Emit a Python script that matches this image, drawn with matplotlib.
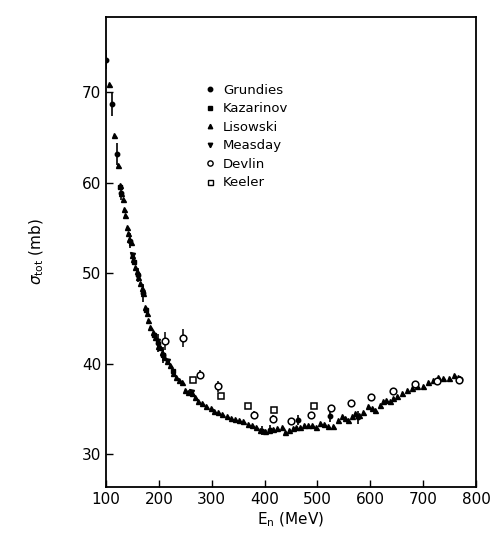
import matplotlib.pyplot as plt
from matplotlib.lines import Line2D

# Lisowski (filled up-triangles)
lis_E = [106, 115, 123, 126, 129, 132, 134, 136, 140, 142, 144, 147, 149, 152, 155,
         158, 161, 164, 168, 170, 174, 177, 180, 183, 189, 193, 198, 202, 206, 210,
         215, 221, 227, 233, 238, 244, 250, 256, 262, 268, 275, 282, 290, 298, 305,
         312, 320, 328, 336, 344, 352, 360, 368, 376, 384, 392, 400, 408, 416, 424,
         433, 439, 446, 453, 460, 467, 474, 482, 490, 497, 505, 512, 520, 530, 539,
         546, 552, 558, 565, 572, 579, 586, 596, 603, 609, 618, 624, 630, 637, 643,
         650, 660, 669, 678, 688, 700, 709, 718, 728, 738, 749, 758, 766]
lis_s = [70.9, 65.3, 62.0, 59.7, 58.9, 58.2, 57.1, 56.4, 55.1, 54.5, 53.8, 53.4, 52.0, 51.6, 50.7,
         50.3, 49.6, 48.9, 48.4, 47.8, 46.3, 45.6, 44.8, 44.1, 43.5, 43.0, 42.0, 41.9, 41.3, 40.8,
         40.3, 39.9, 39.0, 38.5, 38.2, 38.0, 37.1, 36.9, 36.8, 36.3, 35.9, 35.7, 35.4, 35.1, 34.8,
         34.7, 34.5, 34.2, 34.0, 33.9, 33.8, 33.7, 33.4, 33.2, 33.0, 32.7, 32.6, 32.7, 32.8, 32.9,
         33.0, 32.5, 32.7, 32.9, 33.0, 33.0, 33.2, 33.3, 33.2, 33.0, 33.5, 33.4, 33.1, 33.1, 33.8,
         34.2, 34.0, 33.8, 34.2, 34.6, 34.4, 34.7, 35.3, 35.1, 34.9, 35.5, 35.9, 36.0, 35.9, 36.2,
         36.4, 36.8, 37.1, 37.3, 37.5, 37.6, 38.0, 38.2, 38.5, 38.4, 38.4, 38.8, 38.5]

# Grundies (filled circles, error bars)
gru_E = [100, 112, 121, 128, 146, 160, 170, 199, 207, 395, 410, 463, 524, 577, 770]
gru_s = [73.6, 68.7, 63.2, 58.9, 53.6, 49.8, 47.8, 42.3, 41.0, 32.6, 32.7, 33.8, 34.2, 34.1, 38.3]
gru_e = [1.0, 1.3, 1.2, 0.8, 0.8, 0.8, 1.0, 1.0, 0.9, 0.5, 0.5, 0.6, 0.6, 0.7, 0.4]

# Kazarinov (filled squares)
kaz_E = [127, 153, 175, 190, 207, 226]
kaz_s = [59.5, 51.2, 46.0, 43.2, 41.0, 39.2]

# Measday (filled down-triangles)
mea_E = [149, 196, 216, 260]
mea_s = [52.0, 42.5, 40.3, 36.9]

# Devlin (open circles, error bars)
dev_E = [212, 246, 278, 312, 380, 415, 450, 488, 525, 563, 602, 643, 685, 726, 768]
dev_s = [42.5, 42.9, 38.8, 37.5, 34.4, 33.9, 33.7, 34.3, 35.1, 35.7, 36.3, 37.0, 37.8, 38.1, 38.2]
dev_e = [1.0, 1.0, 0.5, 0.6, 0.4, 0.4, 0.3, 0.3, 0.3, 0.3, 0.3, 0.3, 0.3, 0.3, 0.3]

# Keeler (open squares)
kee_E = [265, 318, 368, 418, 494]
kee_s = [38.2, 36.4, 35.3, 34.9, 35.4]

fig = plt.figure(figsize=(4.96, 5.41), dpi=100)
ax = fig.add_axes([0.2137, 0.0998, 0.746, 0.8688])

ax.errorbar(gru_E, gru_s, yerr=gru_e, fmt='o', color='black', ms=3.2,
            elinewidth=1.2, capsize=0, zorder=4)
ax.plot(kaz_E, kaz_s, 's', color='black', ms=3.2, zorder=3)
ax.plot(lis_E, lis_s, '^', color='black', ms=3.6, zorder=3)
ax.plot(mea_E, mea_s, 'v', color='black', ms=3.6, zorder=3)
ax.errorbar(dev_E, dev_s, yerr=dev_e, fmt='o', mfc='white', mec='black', color='black',
            ms=4.8, mew=1.1, elinewidth=1.1, capsize=0, zorder=5)
ax.plot(kee_E, kee_s, 's', mfc='white', mec='black', ms=4.3, mew=1.1, zorder=5)

ax.set_xlim(100, 800)
ax.set_ylim(26.4, 78.3)
ax.set_xticks(range(100, 801, 100))
ax.set_yticks([30, 40, 50, 60, 70])
ax.tick_params(direction='in', length=5, width=1, labelsize=11)
for sp in ax.spines.values():
    sp.set_linewidth(1.3)

ax.set_xlabel(r'E$_{\rm n}$ (MeV)', fontsize=11, labelpad=3)
ax.set_ylabel(r'$\sigma_{\rm tot}$ (mb)', fontsize=11, labelpad=26)

handles = [
    Line2D([], [], ls='none', marker='o', color='black', ms=3.2),
    Line2D([], [], ls='none', marker='s', color='black', ms=3.2),
    Line2D([], [], ls='none', marker='^', color='black', ms=3.2),
    Line2D([], [], ls='none', marker='v', color='black', ms=3.2),
    Line2D([], [], ls='none', marker='o', mfc='white', mec='black', ms=3.8, mew=1),
    Line2D([], [], ls='none', marker='s', mfc='white', mec='black', ms=3.6, mew=1),
]
labels = ['Grundies', 'Kazarinov', 'Lisowski', 'Measday', 'Devlin', 'Keeler']
ax.legend(handles, labels, loc='upper left', bbox_to_anchor=(0.245, 0.872), frameon=False,
          fontsize=9.5, handlelength=1.0, handletextpad=0.5, labelspacing=0.42,
          borderpad=0)

fig.savefig('out.png', dpi=100)
